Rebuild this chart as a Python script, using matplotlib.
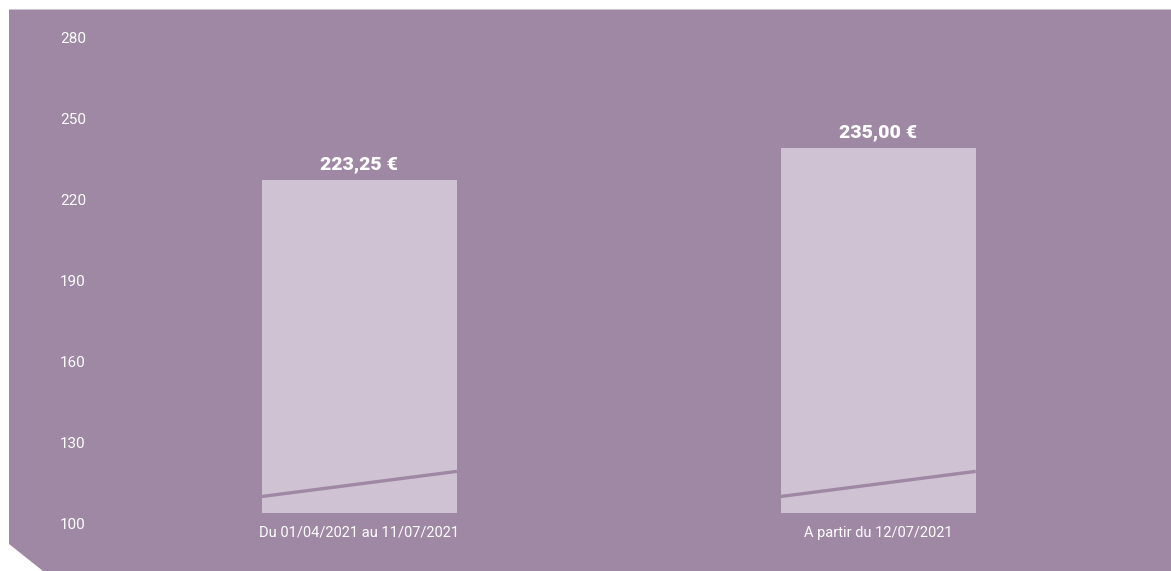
import matplotlib
matplotlib.use("Agg")
import matplotlib.pyplot as plt
from matplotlib.patches import Polygon
from matplotlib import font_manager
import matplotlib.transforms as mtransforms

categories = ["Du 01/04/2021 au 11/07/2021", "A partir du 12/07/2021"]
values = [223.25, 235.00]
value_labels = ["223,25 €", "235,00 €"]
yticks = [100, 130, 160, 190, 220, 250, 280]

BG = "#9e88a3"
BAR = "#cfc3d3"
W, H = 1171, 571

avail = {f.name for f in font_manager.fontManager.ttflist}
cond = "Liberation Sans Narrow" if "Liberation Sans Narrow" in avail else "Roboto"

fig = plt.figure(figsize=(W / 100, H / 100), dpi=100, facecolor="white")

# background panel with cut corner (pixel coordinates -> figure fraction)
pts = [(9, 9.5), (W, 9.5), (W, H), (43, H), (9, 544)]
poly = Polygon([(x / W, 1 - y / H) for x, y in pts], closed=True,
               transform=fig.transFigure, facecolor=BG, edgecolor="none", zorder=-10)
fig.patches.append(poly)

ax_left, ax_right = 100 / W, 1137.5 / W
ax_bottom, ax_top = (H - 512.7) / H, (H - 26.5) / H
ax = fig.add_axes([ax_left, ax_bottom, ax_right - ax_left, ax_top - ax_bottom])
ax.set_facecolor("none")
ax.set_zorder(5)
for s in ax.spines.values():
    s.set_visible(False)

x = list(range(len(categories)))
width = 0.376
bars = ax.bar(x, [v - 100 for v in values], bottom=100, width=width,
              color=BAR, zorder=2)

# decorative diagonal stripe near bar bottom
for b in bars:
    x0 = b.get_x()
    x1 = x0 + b.get_width()
    ax.plot([x0, x1], [106.0, 115.3], color=BG, lw=2.4, solid_capstyle="butt", zorder=3)

for xi, v, lab in zip(x, values, value_labels):
    ax.annotate(lab, (xi, v), xytext=(0, 16), textcoords="offset pixels",
                ha="center", va="center", color="white", fontsize=14,
                fontweight="heavy", family=["Roboto", "DejaVu Sans"], zorder=4)

ax.set_xlim(-0.5, 1.5)
ax.set_ylim(100, 280)
ax.set_yticks(yticks)
ax.set_yticklabels([str(t) for t in yticks])
ax.set_xticks(x)
ax.set_xticklabels(categories)
ax.tick_params(axis="both", length=0, colors="white")
ax.tick_params(axis="y", pad=(100 - 60) * 72 / 100)
ax.tick_params(axis="x", pad=0)

offset_y = mtransforms.ScaledTranslation(0, -11 / 100, fig.dpi_scale_trans)
for lbl in ax.get_yticklabels():
    lbl.set_fontsize(11)
    lbl.set_family([cond, "DejaVu Sans"])
    lbl.set_horizontalalignment("left")
    lbl.set_transform(lbl.get_transform() + offset_y)

offset_x = mtransforms.ScaledTranslation(0, -20 / 100, fig.dpi_scale_trans)
for lbl in ax.get_xticklabels():
    lbl.set_fontsize(10.5)
    lbl.set_family([cond, "DejaVu Sans"])
    lbl.set_verticalalignment("center")
    lbl.set_transform(lbl.get_transform() + offset_x)

fig.savefig("out.png", dpi=100, facecolor="white")
